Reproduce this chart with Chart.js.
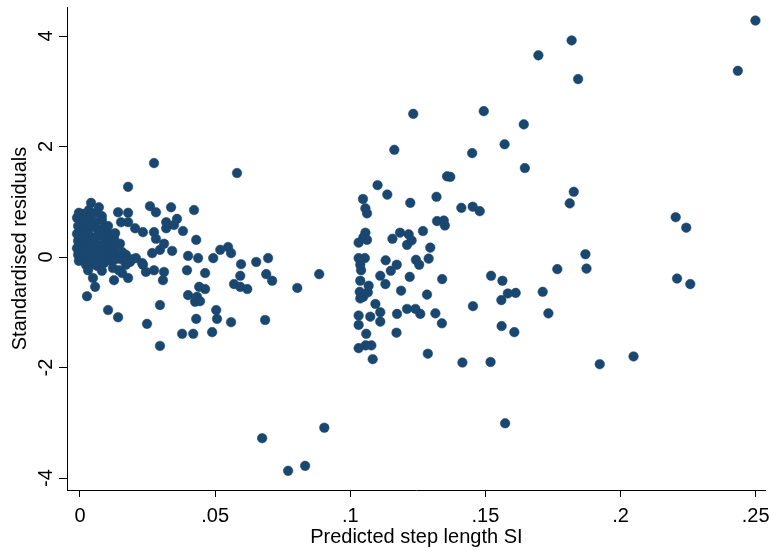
<!DOCTYPE html>
<html>
<head>
<meta charset="utf-8">
<script src="https://cdn.jsdelivr.net/npm/chart.js@4.4.1/dist/chart.umd.min.js"></script>
<style>
  html, body { margin: 0; padding: 0; background: #fff; }
  #wrap { width: 771px; height: 551px; }
</style>
</head>
<body>
<div id="wrap"><canvas id="c" width="771" height="551"></canvas></div>
<script>
// Axis ticks and their printed labels
const xTicks = [0, 0.05, 0.1, 0.15, 0.2, 0.25];
const xTickLabels = ['0', '.05', '.1', '.15', '.2', '.25'];
const yTicks = [-4, -2, 0, 2, 4];
const yTickLabels = ['-4', '-2', '0', '2', '4'];

// Observations with predicted step length close to zero
const lowX = [-0.0011, -0.0007, -0.0011, -0.0007, -0.0011, -0.0007, -0.0004, 0.0011, 0.0015, 0.0015,
  0.0011, 0.0019, 0.0015, 0.0019, 0.0022, 0.0033, 0.0037, 0.0041, 0.0033, 0.0037,
  0.0041, 0.0037, 0.0044, 0.0059, 0.0056, 0.0063, 0.0059, 0.0063, 0.0059, 0.0067,
  0.0063, 0.0081, 0.0085, 0.0081, 0.0089, 0.0085, 0.0081, 0.0089, 0.0104, 0.0107,
  0.0104, 0.0111, 0.0107, 0.0115, 0.0126, 0.0130, 0.0126, 0.0133, 0.0148, 0.0156,
  0.0152, 0.0170, 0.0185,
  0.0030, 0.0048, 0.0056, 0.0026, 0.0081, 0.0122, 0.0144, 0.0170, 0.0126, 0.0178,
  0.0156, 0.0207, 0.0233, 0.0244, 0.0274, 0.0311, 0.0307, 0.0193, 0.0230,
  0.0041, 0.0070, 0.0081, -0.0004, 0.0141, 0.0178, 0.0152, 0.0178, 0.0204, 0.0233,
  0.0274, 0.0281, 0.0130, 0.0259, 0.0281, 0.0337, 0.0319, 0.0348, 0.0319, 0.0359,
  0.0381, 0.0311, 0.0296, 0.0267, 0.0341, 0.0430, 0.0422, 0.0178, 0.0274];
const lowY = [0.71, 0.56, 0.42, 0.29, 0.16, 0.04, -0.07, 0.78, 0.63, 0.49,
  0.34, 0.22, 0.09, -0.04, -0.14, 0.85, 0.69, 0.54, 0.40, 0.25,
  0.13, 0.00, -0.13, 0.80, 0.63, 0.51, 0.36, 0.22, 0.09, -0.04,
  -0.16, 0.67, 0.52, 0.38, 0.25, 0.13, 0.00, -0.11, 0.56, 0.42,
  0.29, 0.16, 0.04, -0.07, 0.34, 0.20, 0.07, -0.04, 0.24, 0.09,
  -0.04, 0.04, -0.09,
  -0.24, -0.38, -0.54, -0.71, -0.25, -0.20, -0.24, -0.14, -0.42, -0.38,
  -0.29, -0.02, -0.14, -0.27, -0.24, -0.27, -0.42, -0.04, -0.11,
  0.98, 0.90, 0.74, 0.80, 0.81, 0.80, 0.63, 0.63, 0.52, 0.45,
  0.45, 0.33, 0.43, 0.92, 0.81, 0.90, 0.63, 0.58, 0.52, 0.69,
  0.47, 0.24, 0.13, 0.07, 0.11, 0.31, 0.85, 1.27, 1.70];

// Observations in the middle of the range
const midX = [0.0581, 0.0400, 0.0437, 0.0493, 0.0519, 0.0548, 0.0559, 0.0596, 0.0652, 0.0696,
  0.0396, 0.0463, 0.0593, 0.0570, 0.0619, 0.0593, 0.0689, 0.0711, 0.0804, 0.0885,
  0.0441, 0.0463, 0.0400, 0.0426, 0.0444, 0.0433, 0.0296, 0.0104, 0.0141, 0.0504,
  0.0507, 0.0430, 0.0559, 0.0685, 0.0248, 0.0378, 0.0419, 0.0489, 0.0296, 0.0674,
  0.0904, 0.0770, 0.0833];
const midY = [1.52, 0.02, -0.02, -0.02, 0.13, 0.18, 0.07, -0.13, -0.09, -0.02,
  -0.24, -0.29, -0.34, -0.49, -0.58, -0.54, -0.31, -0.43, -0.56, -0.31,
  -0.54, -0.58, -0.69, -0.81, -0.80, -0.72, -0.87, -0.96, -1.09, -0.96,
  -1.12, -1.12, -1.18, -1.14, -1.21, -1.39, -1.39, -1.36, -1.61, -3.28,
  -3.09, -3.87, -3.78];

// Observations with larger predicted step length
const highX = [0.2499, 0.2434, 0.1696, 0.1819, 0.1843, 0.1494, 0.1233, 0.1642, 0.1571, 0.1163,
  0.1451, 0.1646, 0.1358, 0.1370, 0.1827, 0.1812, 0.1101, 0.1137, 0.1047, 0.1056,
  0.1062, 0.1222, 0.1319, 0.1411, 0.1453, 0.1479, 0.1321, 0.1346, 0.1350, 0.2204,
  0.2243, 0.1056, 0.1049, 0.1031, 0.1062, 0.1156, 0.1184, 0.1216, 0.1210, 0.1227,
  0.1269, 0.1296, 0.1031, 0.1054, 0.1037, 0.1040, 0.1131, 0.1172, 0.1150, 0.1243,
  0.1255, 0.1290, 0.1870, 0.1874, 0.1766, 0.2209, 0.2258, 0.1340, 0.1111, 0.1130,
  0.1220, 0.1521, 0.1563, 0.1583, 0.1612, 0.1559, 0.1712, 0.1037, 0.1068, 0.1035,
  0.1048, 0.1065, 0.1037, 0.1188, 0.1284, 0.1454, 0.1733, 0.1093, 0.1111, 0.1111,
  0.1074, 0.1031, 0.1031, 0.1173, 0.1210, 0.1241, 0.1259, 0.1315, 0.1339, 0.1560,
  0.1607, 0.1059, 0.1171, 0.1031, 0.1057, 0.1078, 0.1083, 0.1287, 0.1415, 0.1519,
  0.1923, 0.2048, 0.1573];
const highY = [4.28, 3.37, 3.65, 3.92, 3.22, 2.64, 2.59, 2.40, 2.04, 1.94,
  1.88, 1.61, 1.46, 1.45, 1.18, 0.97, 1.30, 1.13, 1.05, 0.88,
  0.79, 0.98, 1.09, 0.89, 0.91, 0.83, 0.65, 0.66, 0.57, 0.72,
  0.53, 0.44, 0.36, 0.26, 0.31, 0.33, 0.44, 0.41, 0.22, 0.30,
  0.47, 0.17, -0.02, -0.02, -0.14, -0.24, -0.06, -0.14, -0.25, -0.05,
  -0.14, -0.03, 0.05, -0.21, -0.22, -0.39, -0.49, -0.40, -0.34, -0.49,
  -0.36, -0.34, -0.43, -0.66, -0.65, -0.78, -0.63, -0.43, -0.52, -0.63,
  -0.72, -0.64, -0.75, -0.61, -0.68, -0.89, -1.02, -0.85, -1.00, -1.17,
  -1.08, -1.06, -1.23, -1.03, -0.94, -0.94, -1.03, -1.02, -1.20, -1.25,
  -1.36, -1.39, -1.37, -1.65, -1.60, -1.60, -1.85, -1.75, -1.91, -1.90,
  -1.94, -1.80, -3.01];

const allX = lowX.concat(midX, highX);
const allY = lowY.concat(midY, highY);
const points = allX.map((x, i) => ({ x: x, y: allY[i] }));

const FONT = '"Liberation Sans", Arial, Helvetica, sans-serif';
const MARKER = '#1a476f';

// Vertical tick labels on the y axis, drawn rotated like the axis title
const yTickLabelPlugin = {
  id: 'yTickLabels',
  afterDraw(chart) {
    const s = chart.scales.y;
    const ctx = chart.ctx;
    ctx.save();
    ctx.font = '20px ' + FONT;
    ctx.fillStyle = '#000';
    ctx.textAlign = 'center';
    ctx.textBaseline = 'middle';
    yTicks.forEach((v, i) => {
      const py = s.getPixelForValue(v);
      ctx.save();
      ctx.translate(46, py);
      ctx.rotate(-Math.PI / 2);
      ctx.fillText(yTickLabels[i], 0, 0);
      ctx.restore();
    });
    ctx.restore();
  }
};

new Chart(document.getElementById('c'), {
  type: 'scatter',
  data: {
    datasets: [{
      data: points,
      backgroundColor: MARKER,
      borderColor: MARKER,
      borderWidth: 0.5,
      pointRadius: 4.8,
      pointHoverRadius: 4.8
    }]
  },
  options: {
    responsive: false,
    animation: false,
    events: [],
    layout: { padding: { top: 7, right: 0, bottom: 0, left: 0 } },
    plugins: { legend: { display: false }, tooltip: { enabled: false } },
    scales: {
      x: {
        type: 'linear',
        min: -0.0048,
        max: 0.2537,
        afterBuildTicks: s => { s.ticks = xTicks.map(v => ({ value: v })); },
        afterFit: s => { s.height = 61; s.paddingLeft = 0; s.paddingRight = 0; },
        ticks: {
          callback: (v, i) => xTickLabels[i],
          color: '#000',
          font: { family: FONT, size: 20 },
          padding: 7,
          maxRotation: 0,
          autoSkip: false
        },
        grid: { drawOnChartArea: false, drawTicks: true, tickLength: 7, color: '#000', lineWidth: 1 },
        border: { display: true, color: '#000', width: 1 },
        title: {
          display: true,
          text: 'Predicted step length SI',
          color: '#000',
          font: { family: FONT, size: 20 },
          padding: { top: 0, bottom: 2 }
        }
      },
      y: {
        type: 'linear',
        min: -4.217,
        max: 4.525,
        afterBuildTicks: s => { s.ticks = yTicks.map(v => ({ value: v })); },
        afterFit: s => { s.width = 67; s.paddingTop = 0; s.paddingBottom = 0; },
        ticks: { display: false },
        grid: { drawOnChartArea: false, drawTicks: true, tickLength: 8, color: '#000', lineWidth: 1 },
        border: { display: true, color: '#000', width: 1 },
        title: {
          display: true,
          text: 'Standardised residuals',
          color: '#000',
          font: { family: FONT, size: 20 },
          padding: { top: 8, bottom: 0 }
        }
      }
    }
  },
  plugins: [yTickLabelPlugin]
});
</script>
</body>
</html>
